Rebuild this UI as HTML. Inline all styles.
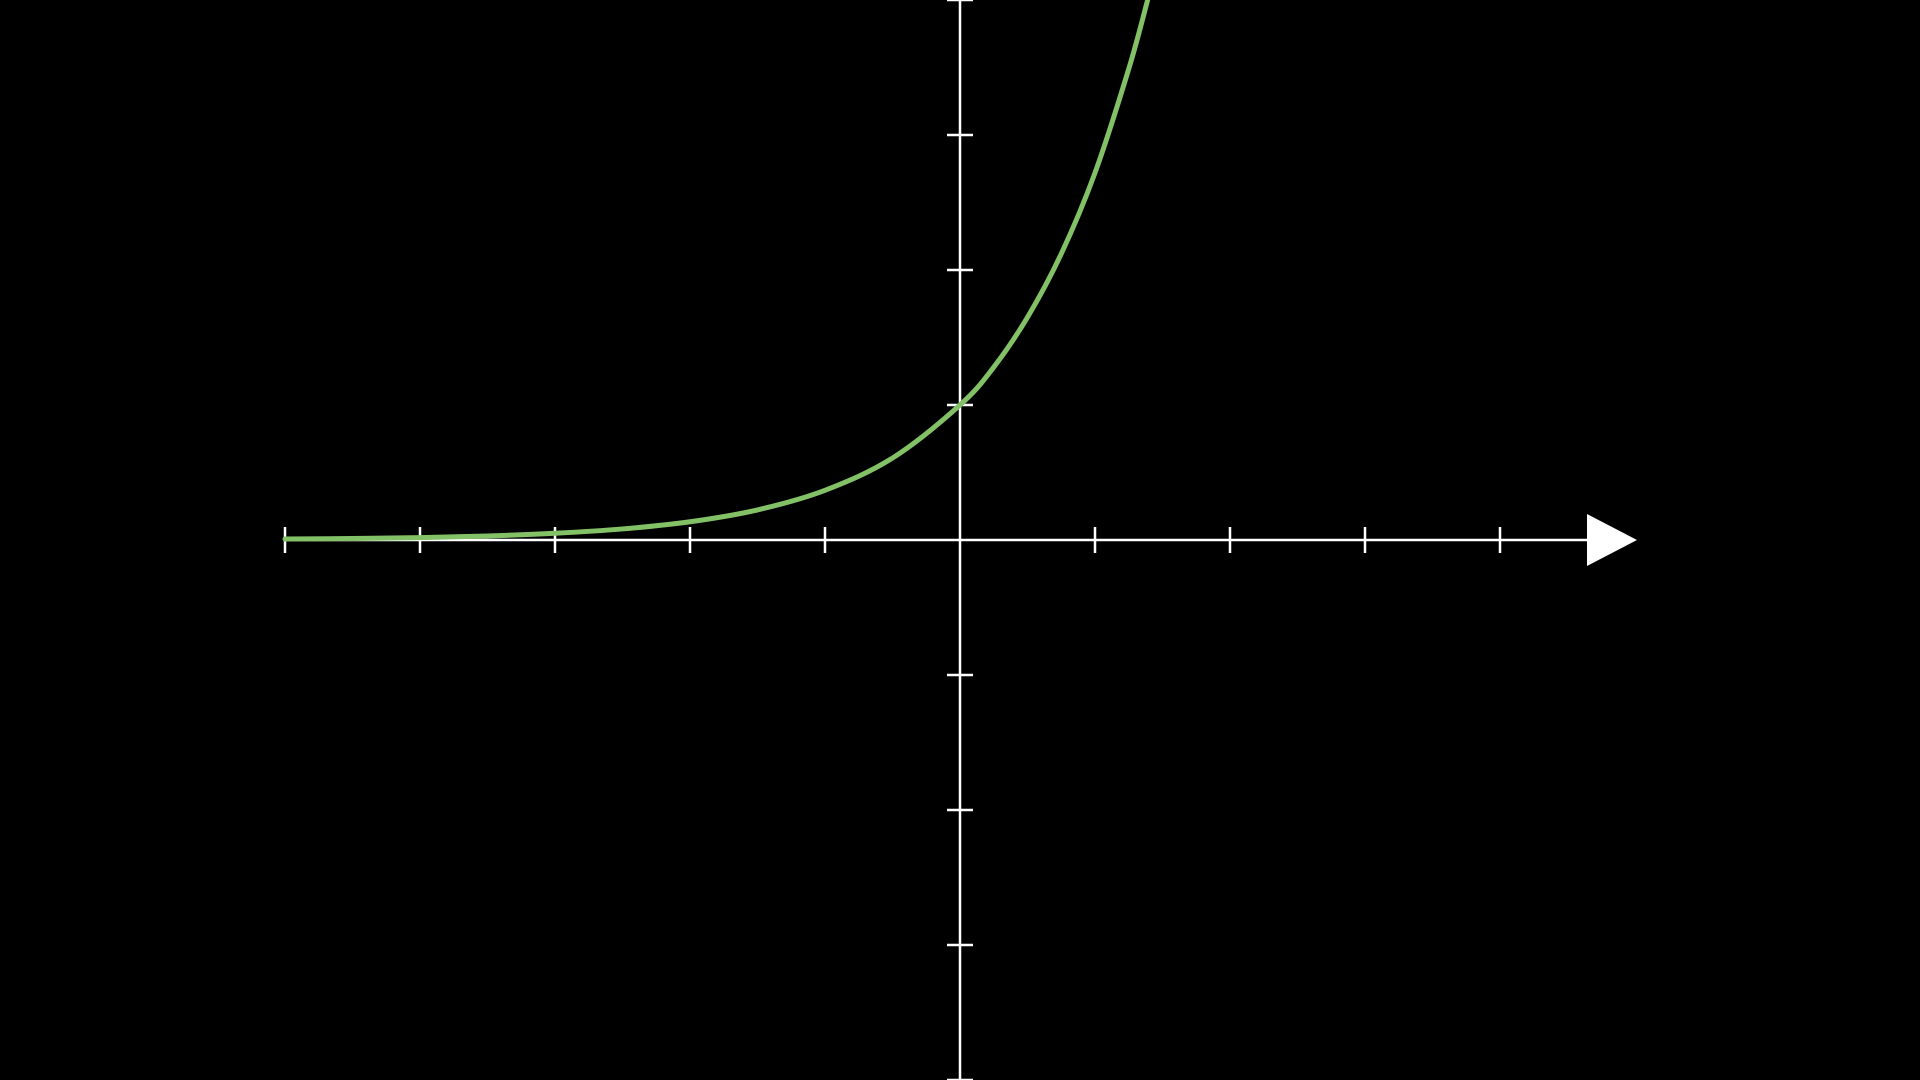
<!DOCTYPE html>
<html>
<head>
<meta charset="utf-8">
<style>
html,body{margin:0;padding:0;background:#000;width:1920px;height:1080px;overflow:hidden}
svg{display:block}
</style>
</head>
<body>
<svg id="chart" width="1920" height="1080" viewBox="0 0 1920 1080" xmlns="http://www.w3.org/2000/svg">
  <rect width="1920" height="1080" fill="#000"/>
  <g id="axes"></g>
  <g id="series"></g>
</svg>
<script>
const xTicks = [-5,-4,-3,-2,-1,1,2,3,4];
const yTicks = [-4,-3,-2,-1,1,2,3,4];
const xs = [-5,-4.5,-4,-3.5,-3,-2.5,-2,-1.5,-1,-0.5,0,0.25,0.5,0.75,1,1.25,1.39];
const ys = [0.007,0.011,0.018,0.03,0.05,0.082,0.135,0.223,0.368,0.607,1,1.28,1.65,2.12,2.72,3.49,4.0];

const NS='http://www.w3.org/2000/svg';
const OX=960, OY=540, UNIT=135;
function sx(v){return OX+v*UNIT;}
function sy(v){return OY-v*UNIT;}
function mk(tag,attrs,parent){const e=document.createElementNS(NS,tag);for(const k in attrs)e.setAttribute(k,attrs[k]);parent.appendChild(e);return e;}

const axes=document.getElementById('axes');
const xl=mk('line',{x1:sx(-5),y1:OY,x2:1590,y2:OY,stroke:'#fff','stroke-width':2.5},axes);


const ar=mk('polygon',{points:'1587,'+(OY-26)+' 1637,'+OY+' 1587,'+(OY+26),fill:'#fff'},axes);


const yl=mk('line',{x1:OX,y1:0,x2:OX,y2:1080,stroke:'#fff','stroke-width':2.5},axes);


xTicks.forEach(t=>{
  const l=mk('line',{x1:sx(t),y1:OY-13,x2:sx(t),y2:OY+13,stroke:'#fff','stroke-width':2.5},axes);
  
  
});
yTicks.forEach(t=>{
  const l=mk('line',{x1:OX-13,y1:sy(t),x2:OX+13,y2:sy(t),stroke:'#fff','stroke-width':2.5},axes);
  
  
});

const pts=xs.map((x,i)=>[sx(x),sy(ys[i])]);
let d='M'+pts[0][0]+','+pts[0][1];
for(let i=0;i<pts.length-1;i++){
  const p0=pts[Math.max(0,i-1)],p1=pts[i],p2=pts[i+1],p3=pts[Math.min(pts.length-1,i+2)];
  const c1=[p1[0]+(p2[0]-p0[0])/6,p1[1]+(p2[1]-p0[1])/6];
  const c2=[p2[0]-(p3[0]-p1[0])/6,p2[1]-(p3[1]-p1[1])/6];
  d+=' C'+c1[0]+','+c1[1]+' '+c2[0]+','+c2[1]+' '+p2[0]+','+p2[1];
}
const series=document.getElementById('series');
const curve=mk('path',{d:d,fill:'none',stroke:'#83c167','stroke-width':5,'stroke-linecap':'round'},series);


</script>
</body>
</html>
